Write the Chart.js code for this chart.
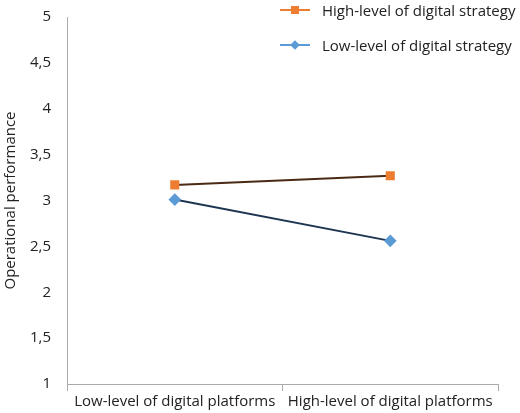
<!DOCTYPE html>
<html><head><meta charset="utf-8">
<script src="https://cdn.jsdelivr.net/npm/chart.js"></script>
<style>
body{margin:0;background:#fff;font-family:"Open Sans",sans-serif;}
#wrap{position:relative;width:520px;height:413px;}
#leg{position:absolute;left:280px;top:0;font-size:15px;color:#222;}
.it{display:flex;align-items:center;height:20px;margin-bottom:15px;}
.ln{position:relative;width:30px;height:2px;margin-right:12px;}
.mk{position:absolute;left:11px;top:-3px;width:8px;height:8px;}
</style></head><body>
<div id="wrap"><canvas id="c" width="520" height="413"></canvas>
<div id="leg">
<div class="it"><span class="ln" style="background:#ed7d31"><span class="mk" style="background:#ed7d31"></span></span>High-level of digital strategy</div>
<div class="it"><span class="ln" style="background:#5b9bd5"><span class="mk" style="background:#5b9bd5;transform:rotate(45deg) scale(.85)"></span></span>Low-level of digital strategy</div>
</div></div>
<script>
const categories=["Low-level of digital platforms","High-level of digital platforms"];
const highStrategy=[3.17,3.27];
const lowStrategy=[3.01,2.56];
const yTicks=[1,1.5,2,2.5,3,3.5,4,4.5,5];
new Chart(document.getElementById('c'),{type:'line',
data:{labels:categories,datasets:[
{label:'High-level of digital strategy',data:highStrategy,borderColor:'#4a2a14',borderWidth:2,pointStyle:'rect',pointRadius:5,pointBackgroundColor:'#ed7d31',pointBorderColor:'#ed7d31'},
{label:'Low-level of digital strategy',data:lowStrategy,borderColor:'#1d3550',borderWidth:2,pointStyle:'rectRot',pointRadius:5,pointBackgroundColor:'#5b9bd5',pointBorderColor:'#5b9bd5'}]},
options:{responsive:false,animation:false,
layout:{padding:{top:1,right:22,left:0,bottom:0}},
plugins:{legend:{display:false},tooltip:{enabled:false}},
scales:{
x:{offset:true,grid:{offset:true,drawOnChartArea:false,drawTicks:true,tickLength:7,color:'#aaa'},border:{color:'#aaa'},ticks:{color:'#222',font:{family:'Open Sans',size:15},padding:2}},
y:{min:1,max:5,afterBuildTicks:s=>{s.ticks=yTicks.map(v=>({value:v}));},grid:{display:false},border:{color:'#aaa'},
ticks:{color:'#222',font:{family:'Open Sans',size:15},callback:v=>String(v).replace('.',','),padding:8},
title:{display:true,text:'Operational performance',color:'#222',font:{family:'Open Sans',size:15},padding:2}}}}});
</script></body></html>
